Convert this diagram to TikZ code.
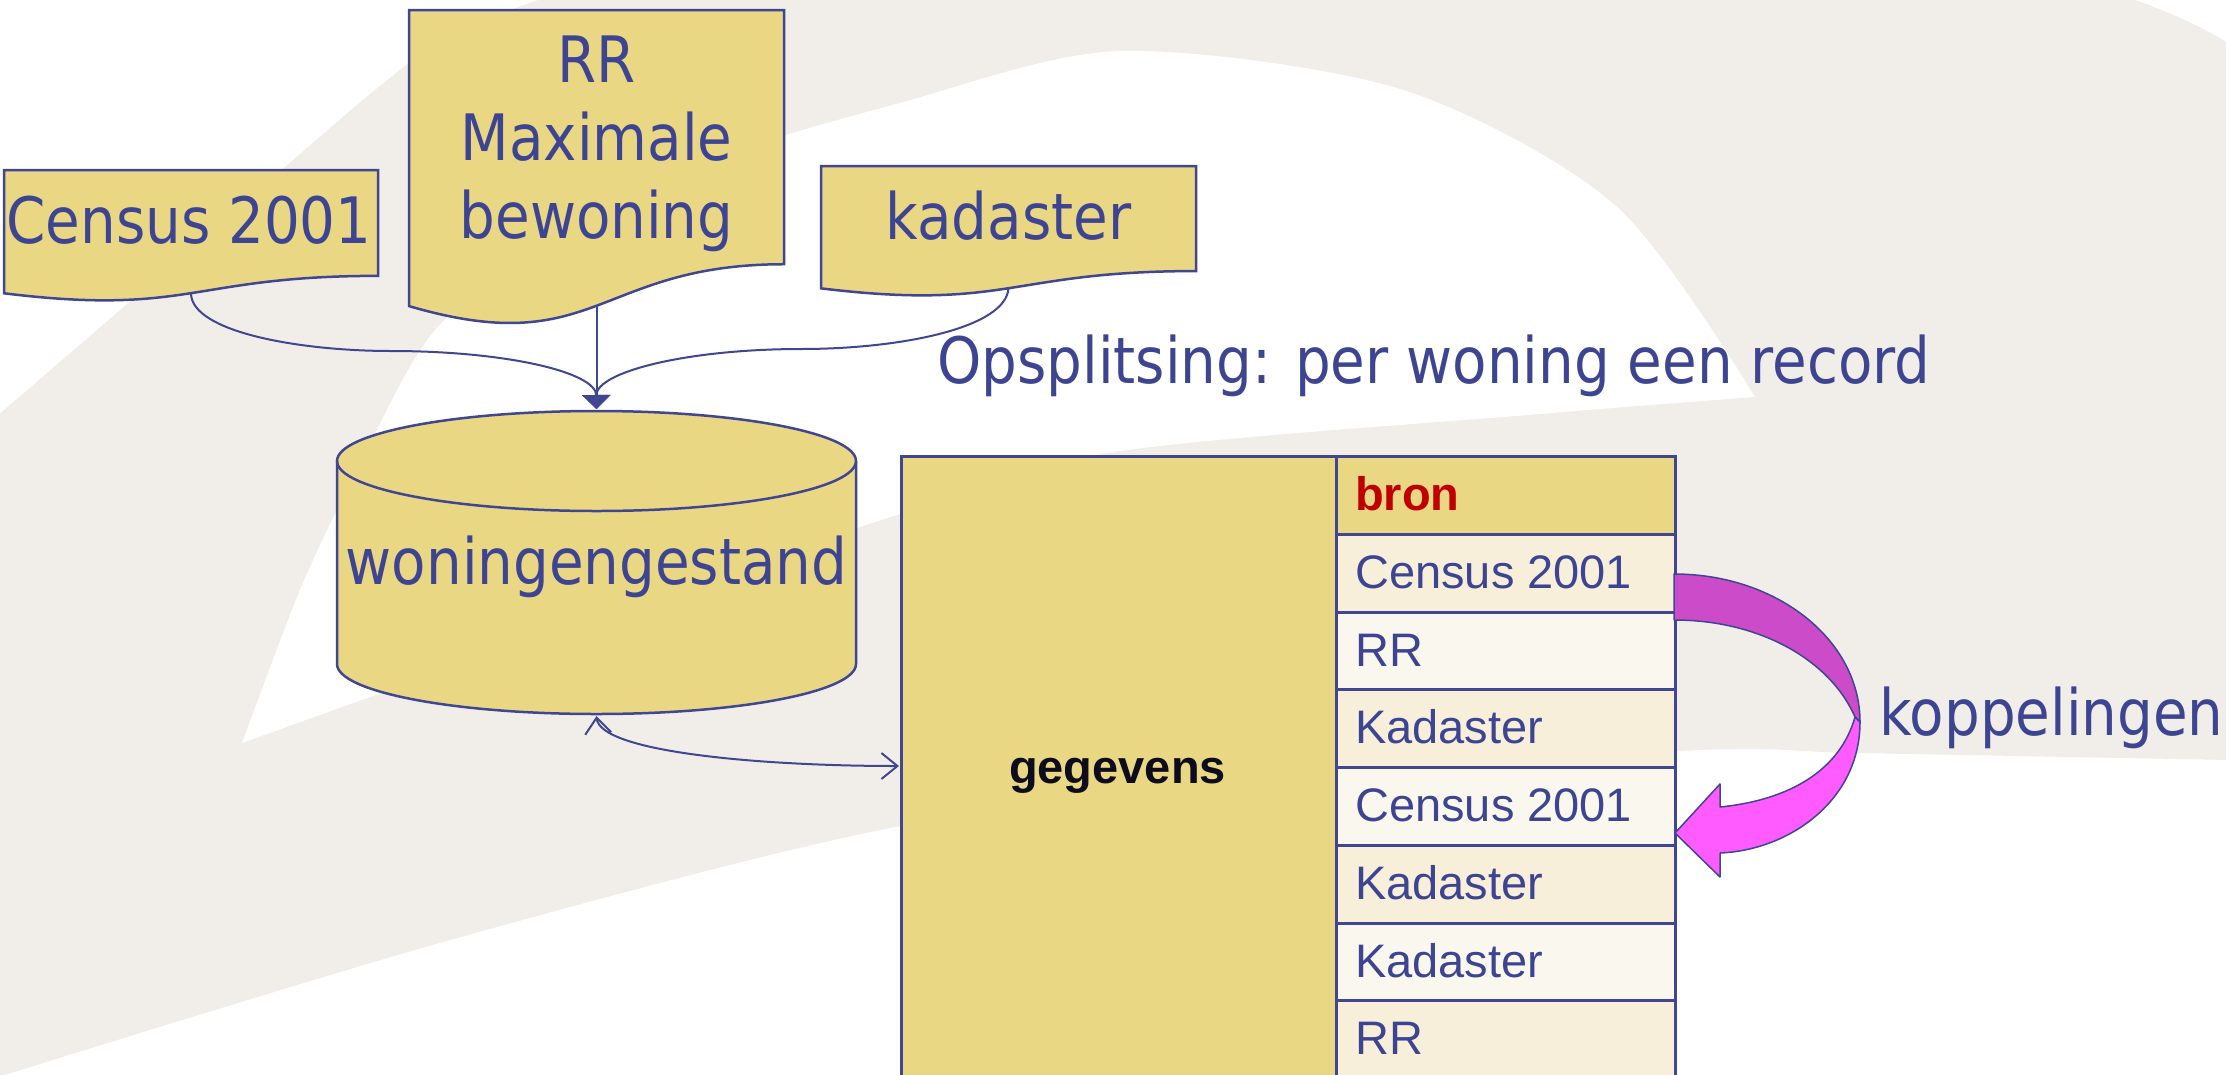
\documentclass[tikz,border=0pt]{standalone}
\usepackage{fontspec}
\setmainfont{Liberation Sans}
\newfontfamily\slidefont[FakeStretch=0.88]{DejaVu Sans}
\usetikzlibrary{arrows.meta}

\definecolor{bggrey}{RGB}{241,238,234}
\definecolor{docyellow}{RGB}{234,215,132}
\definecolor{lineblue}{RGB}{64,70,145}
\definecolor{txtblue}{RGB}{61,69,146}
\definecolor{rowcream}{RGB}{247,239,218}
\definecolor{rowlight}{RGB}{250,248,238}
\definecolor{bronred}{RGB}{192,0,0}
\definecolor{textblack}{RGB}{12,12,28}
\definecolor{darkmag}{RGB}{204,75,200}
\definecolor{brightmag}{RGB}{255,91,255}

% document symbol: name of output point, x0, y0, width, height
\newcommand\docpath[5]{%
  \filldraw[docbox] (#2,#3) -- (#2+#4,#3) -- (#2+#4,#3+0.802*#5)
    .. controls (#2+0.5*#4,#3+0.802*#5) and (#2+0.5*#4,#3+1.1075*#5) .. (#2,#3+0.934*#5) -- cycle;
  \coordinate (#1) at (#2+0.5*#4,#3+0.933*#5);}

\tikzset{
  docbox/.style={fill=docyellow, draw=lineblue, line width=2.5pt, line join=miter},
  bluetext/.style={text=txtblue, font=\slidefont\fontsize{64pt}{77pt}\selectfont, inner sep=0pt},
  cell/.style={draw=lineblue, line width=3pt, minimum width=339pt, minimum height=77.75pt,
    anchor=north west, inner sep=0pt},
  celltext/.style={font=\fontsize{47pt}{56pt}\selectfont, text=txtblue, anchor=base west, inner sep=0pt},
  link/.style={draw=lineblue, line width=2pt},
  filltip/.style={-{Triangle[width=28pt,length=14pt]}},
  barbs/.style={{Straight Barb[length=16pt,width=26pt]}-{Straight Barb[length=16pt,width=26pt]}},
}

\begin{document}
\begin{tikzpicture}[x=1pt,y=-1pt]
\useasboundingbox (0,0) rectangle (2226,1074);
\clip (0,0) rectangle (2226,1074);
\fill[white] (0,0) rectangle (2226,1074);

% background swoosh
\fill[bggrey] plot[smooth] coordinates {(-5,418) (190,250) (420,55) (554,-5)}
  -- (2120,-5) .. controls (2160,8) and (2200,25) .. (2231,45) -- (2231,760)
  -- plot[smooth] coordinates {(2231,760) (1858,753) (1700,750) (1300,778) (900,826) (450,940) (-5,1078)} -- cycle;
\fill[white] plot[smooth] coordinates {(242,743) (300,590) (350,485) (436,329) (574,228)
    (717,158) (900,103) (1120,51) (1400,89) (1615,205) (1755,397)}
  -- plot[smooth] coordinates {(1755,397) (1540,414) (1113,452) (900,514) (600,615) (242,743)} -- cycle;

% source documents
\docpath{census-out}{4}{170}{374}{132}
\docpath{rr-out}{409}{10}{375}{317}
\docpath{kad-out}{821}{166}{375}{131}
\node[bluetext, anchor=base] (censustext) at (189,243) {Census 2001};
\node[bluetext, anchor=base] (rr1) at (596.5,82) {RR};
\node[bluetext, anchor=base] (rr2) at (596.5,160) {Maximale};
\node[bluetext, anchor=base] (rr3) at (596.5,238) {bewoning};
\node[bluetext, anchor=base] (kadtext) at (1008.5,239) {kadaster};

% housing stock database
\filldraw[docbox] (337,461) -- (337,664)
  .. controls (337,691.6) and (453.2,714) .. (596.5,714)
  .. controls (739.8,714) and (856,691.6) .. (856,664) -- (856,461)
  .. controls (856,433.4) and (739.8,411) .. (596.5,411)
  .. controls (453.2,411) and (337,433.4) .. (337,461) -- cycle;
\draw[lineblue, line width=2.5pt] (337,461)
  .. controls (337,488.6) and (453.2,511) .. (596.5,511)
  .. controls (739.8,511) and (856,488.6) .. (856,461);
\node[minimum width=519pt, minimum height=303pt, inner sep=0pt] (store) at (596.5,562.5) {};
\coordinate (storein) at (596.5,409);
\coordinate (storeout) at (596.5,716);
\node[bluetext, anchor=base] (storetext) at (596.5,584) {woningengestand};

% merging connectors
\draw[link, filltip] (census-out) .. controls (191,332) and (300,351) .. (391,351)
  .. controls (505,351) and (596,372) .. (storein);
\draw[link, filltip] (rr-out) -- (storein);
\draw[link, filltip] (kad-out) .. controls (1006,328) and (900,349) .. (801,349)
  .. controls (687,349) and (596,372) .. (storein);

\node[bluetext, anchor=base west] (split) at (937,383) {Opsplitsing: per woning een record};

% record table
\node[draw=lineblue, line width=3pt, fill=docyellow, minimum width=435pt, minimum height=640pt,
  anchor=north west, inner sep=0pt] (data) at (900,455) {};
\node[font=\bfseries\fontsize{47pt}{56pt}\selectfont, text=textblack, anchor=base, inner sep=0pt]
  (datatext) at (1117.5,783) {gegevens};
\coordinate (tablein) at (899,766);

\node[cell, fill=docyellow] (row0) at (1335,455) {};
\node[cell, fill=rowcream] (row1) at (1335,532.75) {};
\node[cell, fill=rowlight] (row2) at (1335,610.5) {};
\node[cell, fill=rowcream] (row3) at (1335,688.25) {};
\node[cell, fill=rowlight] (row4) at (1335,766) {};
\node[cell, fill=rowcream] (row5) at (1335,843.75) {};
\node[cell, fill=rowlight] (row6) at (1335,921.5) {};
\node[cell, fill=rowcream] (row7) at (1335,999.25) {};

\node[celltext, font=\bfseries\fontsize{47pt}{56pt}\selectfont, text=bronred] (t0) at (1355,510.5) {bron};
\node[celltext] (t1) at (1355,588.25) {Census 2001};
\node[celltext] (t2) at (1355,666) {RR};
\node[celltext] (t3) at (1355,743.75) {Kadaster};
\node[celltext] (t4) at (1355,821.5) {Census 2001};
\node[celltext] (t5) at (1355,899.25) {Kadaster};
\node[celltext] (t6) at (1355,977) {Kadaster};
\node[celltext] (t7) at (1355,1054.75) {RR};

% two-way link between database and table
\draw[link, barbs] (storeout) .. controls (600,752) and (760,766) .. (tablein);

% curved link arrow between records
\filldraw[fill=darkmag, draw=lineblue, line width=1.5pt, line join=round]
  (1674,574) .. controls (1777,574) and (1860,640) .. (1860,722) -- (1855,717)
  .. controls (1830,660) and (1760,620) .. (1674,620) -- cycle;
\filldraw[fill=brightmag, draw=lineblue, line width=1.5pt, line join=round]
  (1855,717) -- (1860,722) .. controls (1860,800) and (1790,850) .. (1720,853)
  -- (1720,877) -- (1675,833) -- (1720,784) -- (1720,807)
  .. controls (1790,800) and (1840,770) .. (1855,717) -- cycle;
\node[bluetext, anchor=base west] (links) at (1879,735) {koppelingen};
\end{tikzpicture}
\end{document}
